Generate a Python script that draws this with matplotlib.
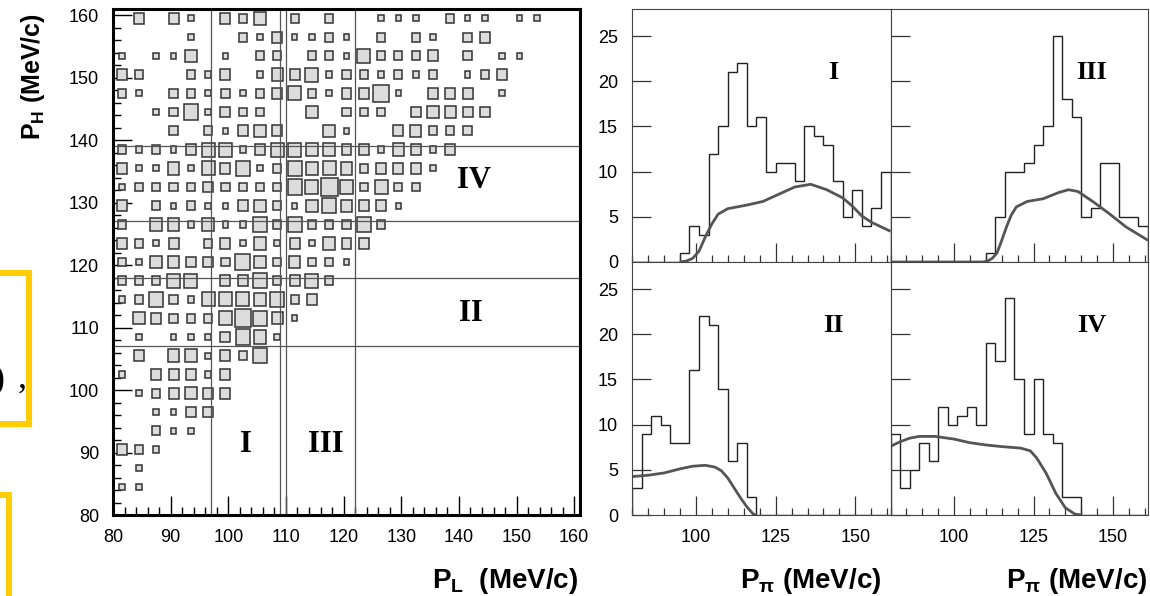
import numpy as np
import matplotlib
matplotlib.use('Agg')
import matplotlib.pyplot as plt
from matplotlib.patches import Rectangle
from matplotlib.ticker import MultipleLocator

plt.rcParams['font.family'] = ['Liberation Sans', 'DejaVu Sans']
plt.rcParams['mathtext.fontset'] = 'custom'
plt.rcParams['mathtext.rm'] = 'Liberation Sans:bold'
plt.rcParams['mathtext.it'] = 'Liberation Sans:bold'
plt.rcParams['mathtext.bf'] = 'Liberation Sans:bold'

# 27 bins of 3 MeV/c from 80 to 161
edges = 80 + 3 * np.arange(28)

# box plot P_H vs P_L, rows from top (P_H = 158-161) down, one digit per P_L bin
box_rows = [
    ".3.31.324.2.2..111.211.11..",
    "....1..2131121.2.21.23.....",
    "1.114.1.22.22152223.2.11...",
    "32..213.14351221212.123....",
    "21.22121235213371.333.1....",
    "..1261322..4.222.34433.....",
    "...2.21343..41..34222......",
    "21213551355443314313",
    "3114153612645423331",
    "122223222265952522",
    "3.212113421464331",
    "2.44141162622262",
    "3213.2314131433",
    "21443327424221",
    "22255.3362352",
    "126215554623",
    ".4322258641",
    ".1.1113651",
    ".3.441326",
    "1.33313",
    ".123433",
    "..1133",
    "..211",
    "321",
    ".1",
    "11",
    "",
]
cut_PL = [97, 109, 110, 122]
cut_PH = [107, 118, 127, 139]
region_labels = [('I', 103.1, 91.3), ('III', 116.9, 91.3),
                 ('II', 142.1, 112.2), ('IV', 142.6, 133.5)]

# P_pi spectra per region (counts per 3 MeV/c bin)
hist_I = [0, 0, 0, 0, 0, 1, 4, 3, 12, 15, 21, 22, 15, 16, 10, 11, 11, 9, 15,
          14, 13, 9, 5, 8, 4, 6, 10]
hist_III = [0, 0, 0, 0, 0, 0, 0, 0, 0, 0, 1, 5, 10, 10, 11, 13, 15, 25, 18,
            16, 5, 6, 11, 11, 5, 5, 4]
hist_II = [3, 9, 11, 10, 8, 8, 16, 22, 21, 14, 6, 8, 2, 0, 0, 0, 0, 0, 0,
           0, 0, 0, 0, 0, 0, 0, 0]
hist_IV = [9, 3, 5, 8, 6, 12, 10, 11, 12, 10, 19, 17, 24, 15, 9, 15, 9, 8, 2,
           2, 0, 0, 0, 0, 0, 0, 0]

# expected shapes
fit_I_x = [95, 97, 99, 101, 103, 105, 107, 110, 113, 116, 121, 126, 131, 136,
           141, 146, 149, 152, 155, 158, 161]
fit_I_y = [0, 0.1, 0.4, 1.2, 2.8, 4.2, 5.3, 5.9, 6.1, 6.3, 6.7, 7.5, 8.3, 8.6,
           8.0, 7.1, 6.2, 5.1, 4.4, 3.9, 3.4]
fit_III_x = [80, 109, 110.5, 112, 113.5, 115, 116.5, 118, 119.6, 123, 128, 133,
             136, 139, 144, 149, 154, 161]
fit_III_y = [0, 0, 0.1, 0.4, 1.0, 2.4, 3.9, 5.2, 6.1, 6.7, 7.0, 7.7, 8.0, 7.8,
             6.6, 5.3, 3.9, 2.4]
fit_II_x = [80, 85, 90, 95, 99, 103, 106, 108, 110, 112, 114, 116, 118, 119]
fit_II_y = [4.25, 4.4, 4.65, 5.1, 5.4, 5.5, 5.3, 4.9, 4.1, 3.0, 1.9, 0.9, 0.1, 0]
fit_IV_x = [80, 83, 86, 89, 94, 100, 105, 110, 115, 121, 124, 126, 129, 132,
            135, 138, 140]
fit_IV_y = [7.6, 8.1, 8.5, 8.7, 8.7, 8.4, 8.0, 7.75, 7.57, 7.4, 7.1, 6.3, 4.6,
            2.4, 0.8, 0.1, 0]

W, H = 1150, 596
fig = plt.figure(figsize=(W / 100, H / 100), dpi=100)


def px_axes(x0, y0, x1, y1):
    # pixel box, y measured from the top
    return fig.add_axes([x0 / W, 1 - y1 / H, (x1 - x0) / W, (y1 - y0) / H])


def px_rect(x0, y0, x1, y1, **kw):
    fig.add_artist(Rectangle((x0 / W, 1 - y1 / H), (x1 - x0) / W, (y1 - y0) / H,
                             transform=fig.transFigure, fill=False, **kw))


# slide remnants on the left edge
px_rect(-20, 273, 29, 424, ec='#ffcc00', lw=4.3)
px_rect(-20, 495, 8.5, 660, ec='#ffcc00', lw=4.3)
fig.text(5 / W, 1 - 388 / H, ')', ha='right', va='baseline',
         family=['Liberation Serif', 'DejaVu Serif'], size=26)
fig.text(18 / W, 1 - 388 / H, ',', ha='left', va='baseline',
         family=['Liberation Serif', 'DejaVu Serif'], size=26)

# --- left: box plot
ax = px_axes(113, 9, 580, 515)
ax.set_xlim(80, 161)
ax.set_ylim(80, 161)
centers = 0.5 * (edges[:-1] + edges[1:])
width = edges[1] - edges[0]
nmax = 9
for j, row in enumerate(box_rows):
    jj = len(centers) - 1 - j
    for k, ch in enumerate(row.ljust(len(centers), '.')):
        if ch == '.':
            continue
        s = width * np.sqrt(int(ch) / nmax)
        ax.add_patch(Rectangle((centers[k] - s / 2, centers[jj] - s / 2), s, s,
                               fc='#dcdcdc', ec='#333333', lw=1.1, zorder=2))
for v in cut_PL:
    ax.axvline(v, color='#555555', lw=0.9, zorder=3)
for v in cut_PH:
    ax.axhline(v, color='#555555', lw=0.9, zorder=3)
for name, x, y in region_labels:
    ax.text(x, y, name, ha='center', va='center', size=22, weight='bold',
            family=['Liberation Serif', 'DejaVu Serif'], zorder=4)
ax.xaxis.set_major_locator(MultipleLocator(10))
ax.xaxis.set_minor_locator(MultipleLocator(2))
ax.yaxis.set_major_locator(MultipleLocator(10))
ax.yaxis.set_minor_locator(MultipleLocator(2))
ax.tick_params(which='both', direction='in', width=1.0, labelsize=13, pad=10)
ax.tick_params(which='major', length=14)
ax.tick_params(which='minor', length=5.5)
for sp in ax.spines.values():
    sp.set_linewidth(2.2)
    sp.set_zorder(5)

# --- right: 2x2 spectra
cols = [(632, 890.5), (890.5, 1148)]
rows = [(9, 262), (262, 515)]
panels = [[('I', hist_I, fit_I_x, fit_I_y), ('III', hist_III, fit_III_x, fit_III_y)],
          [('II', hist_II, fit_II_x, fit_II_y), ('IV', hist_IV, fit_IV_x, fit_IV_y)]]
for r, (y0, y1) in enumerate(rows):
    for c, (x0, x1) in enumerate(cols):
        name, h, fx, fy = panels[r][c]
        a = px_axes(x0, y0, x1, y1)
        a.stairs(h, edges, color='#222222', lw=1.0, baseline=0)
        a.plot(fx, fy, color='#555555', lw=2.0, solid_capstyle='butt')
        a.set_xlim(80, 161)
        a.set_ylim(0, 28)
        a.text(0.78, 0.75, name, transform=a.transAxes, ha='center', va='center',
               size=19, weight='bold', family=['Liberation Serif', 'DejaVu Serif'])
        a.xaxis.set_major_locator(MultipleLocator(25))
        a.xaxis.set_minor_locator(MultipleLocator(5))
        a.yaxis.set_major_locator(MultipleLocator(5))
        a.tick_params(which='both', direction='in', width=0.9, color='#333333',
                      labelsize=13, pad=10, labelleft=(c == 0), labelbottom=(r == 1))
        a.tick_params(which='major', length=14)
        a.tick_params(which='minor', length=5)
        for sp in a.spines.values():
            sp.set_linewidth(0.8)
            sp.set_color('#444444')

# axis titles
fig.text(578 / W, 1 - 588 / H, r'P$_\mathrm{L}$  (MeV/c)', ha='right',
         va='baseline', size=20, weight='bold')
fig.text(881 / W, 1 - 588 / H, r'P$_\pi$ (MeV/c)', ha='right',
         va='baseline', size=20, weight='bold')
fig.text(1147 / W, 1 - 588 / H, r'P$_\pi$ (MeV/c)', ha='right',
         va='baseline', size=20, weight='bold')
fig.text(33 / W, 1 - 140 / H, r'P$_\mathrm{H}$ (MeV/c)', rotation=90,
         ha='center', va='bottom', size=18, weight='bold')

fig.savefig('out.png', dpi=100)
